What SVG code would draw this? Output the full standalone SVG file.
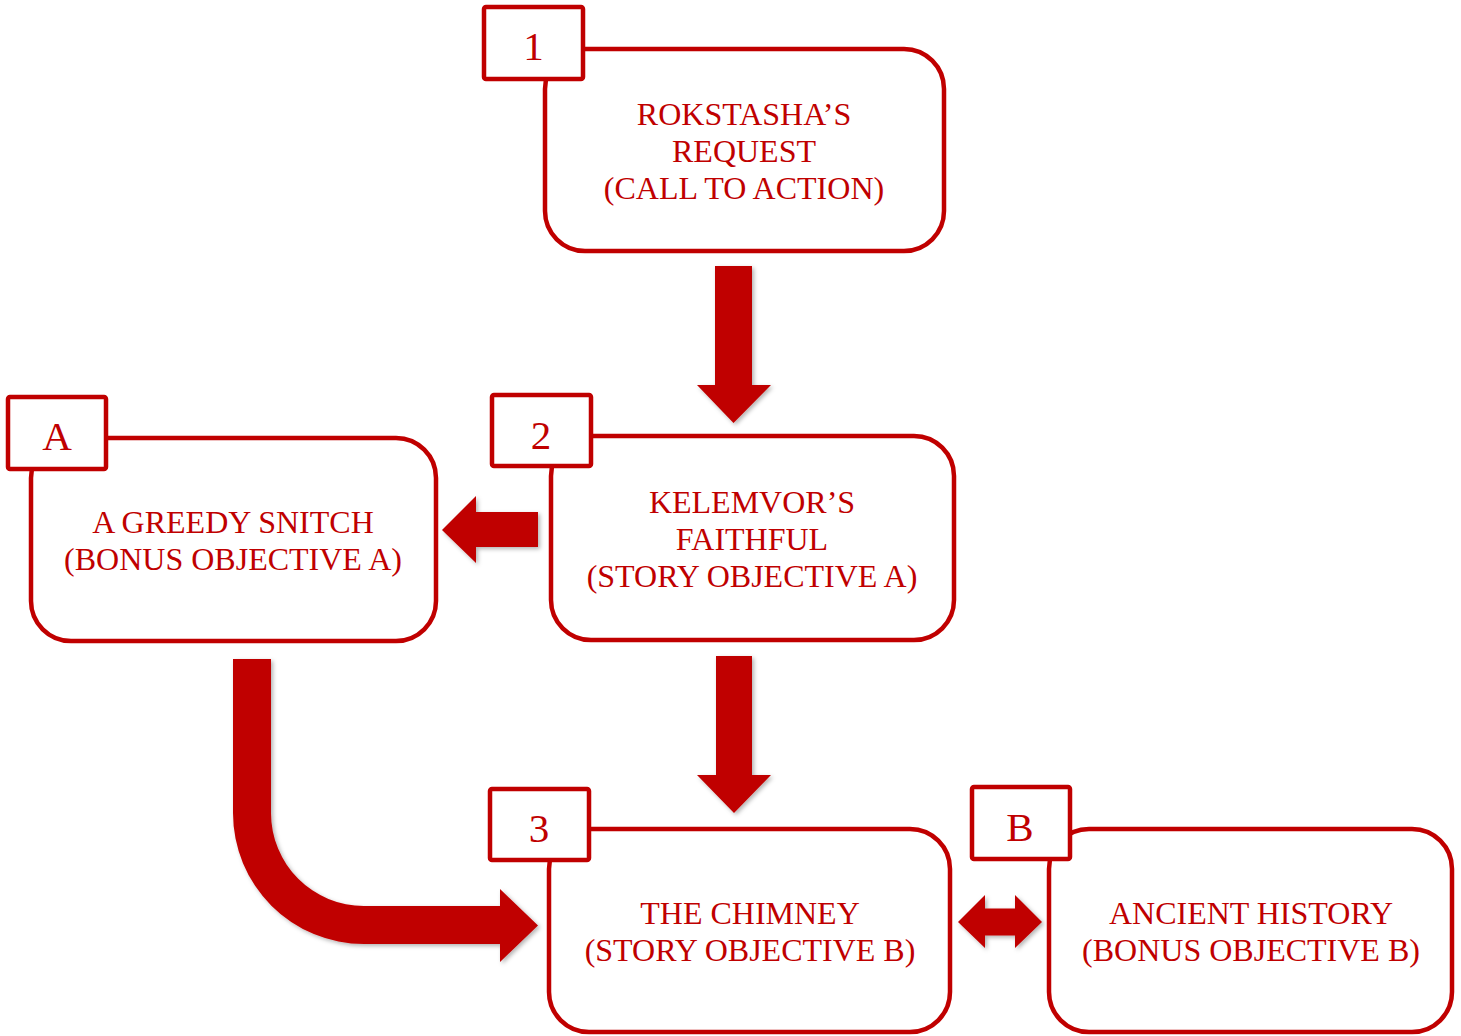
<svg xmlns="http://www.w3.org/2000/svg" width="1461" height="1036" viewBox="0 0 1461 1036">
<defs>
<filter id="sh" x="-20%" y="-20%" width="140%" height="140%">
<feDropShadow dx="2" dy="2" stdDeviation="2" flood-color="#000" flood-opacity="0.3"/>
</filter>
</defs>
<style>
.box{fill:#fff;stroke:#C00000;stroke-width:4.5}
.tag{fill:#fff;stroke:#C00000;stroke-width:4.5}
.t{font-family:"Liberation Serif","Times New Roman",serif;font-size:32px;fill:#C00000;text-anchor:middle}
.n{font-family:"Liberation Serif","Times New Roman",serif;font-size:41px;fill:#C00000;text-anchor:middle}
.arr{fill:#C00000;filter:url(#sh)}
</style>
<rect width="1461" height="1036" fill="#fff"/>
<g id="connectors">
<polygon class="arr" points="715,266 752,266 752,385 771,385 733.5,423 697,385 715,385"/>
<polygon class="arr" points="716,656 752,656 752,775 771,775 734,813 697,775 716,775"/>
<polygon class="arr" points="538,512 538,547 476,547 476,563 442,530 476,496 476,512"/>
<path class="arr" d="M233,659 L271,659 L271,813 A93,93 0 0 0 364,906 L500,906 L500,889 L538,925.5 L500,962 L500,944 L364,944 A131,131 0 0 1 233,813 Z"/>
<polygon class="arr" points="958,922 985,895 985,908.5 1015,908.5 1015,895 1042,922 1015,948 1015,935.5 985,935.5 985,948"/>
</g>
<g id="node1">
<rect class="box" x="545" y="49" width="399" height="202" rx="40"/>
<rect class="tag" x="484" y="7" width="99" height="72" rx="2"/>
<text class="n" x="533.5" y="60">1</text>
<text class="t" x="744" y="125">ROKSTASHA’S</text>
<text class="t" x="744" y="162">REQUEST</text>
<text class="t" x="744" y="199">(CALL TO ACTION)</text>
</g>
<g id="nodeA">
<rect class="box" x="31" y="438" width="405" height="203" rx="40"/>
<rect class="tag" x="8" y="397" width="98" height="72" rx="2"/>
<text class="n" x="57" y="450">A</text>
<text class="t" x="233" y="533">A GREEDY SNITCH</text>
<text class="t" x="233" y="570">(BONUS OBJECTIVE A)</text>
</g>
<g id="node2">
<rect class="box" x="551" y="436" width="403" height="204" rx="40"/>
<rect class="tag" x="492" y="395" width="99" height="71" rx="2"/>
<text class="n" x="541" y="449">2</text>
<text class="t" x="752" y="513">KELEMVOR’S</text>
<text class="t" x="752" y="550">FAITHFUL</text>
<text class="t" x="752" y="587">(STORY OBJECTIVE A)</text>
</g>
<g id="node3">
<rect class="box" x="549" y="829" width="401" height="203" rx="40"/>
<rect class="tag" x="490" y="789" width="99" height="71" rx="2"/>
<text class="n" x="539" y="842">3</text>
<text class="t" x="750" y="924">THE CHIMNEY</text>
<text class="t" x="750" y="961">(STORY OBJECTIVE B)</text>
</g>
<g id="nodeB">
<rect class="box" x="1049" y="829" width="403" height="203" rx="40"/>
<rect class="tag" x="972" y="787" width="98" height="72" rx="2"/>
<text class="n" x="1020" y="841">B</text>
<text class="t" x="1251" y="924">ANCIENT HISTORY</text>
<text class="t" x="1251" y="961">(BONUS OBJECTIVE B)</text>
</g>
</svg>
